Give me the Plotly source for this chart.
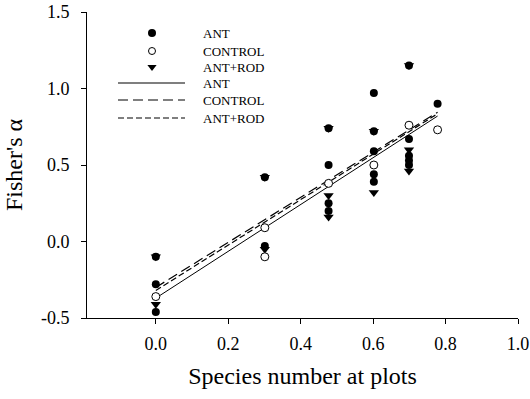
import plotly.graph_objects as go

# ---- data ----
ant_x = [0, 0, 0, 0.301, 0.301, 0.477, 0.477, 0.477, 0.477,
         0.602, 0.602, 0.602, 0.602, 0.602, 0.699, 0.699, 0.699, 0.699, 0.699, 0.778]
ant_y = [-0.10, -0.28, -0.46, 0.42, -0.03, 0.74, 0.50, 0.25, 0.20,
         0.97, 0.72, 0.59, 0.44, 0.39, 1.15, 0.67, 0.56, 0.53, 0.50, 0.90]

ctrl_x = [0, 0.301, 0.301, 0.477, 0.602, 0.699, 0.778]
ctrl_y = [-0.36, 0.09, -0.10, 0.38, 0.50, 0.76, 0.73]

rod_x = [0, 0, 0.301, 0.301, 0.477, 0.477, 0.477, 0.602, 0.602, 0.699, 0.699, 0.699]
rod_y = [-0.10, -0.41, 0.42, -0.05, 0.74, 0.30, 0.16, 0.72, 0.32, 1.15, 0.60, 0.46]

fit_x = [0, 0.778]
ant_fit = [-0.37, 0.82]
ctrl_fit = [-0.30, 0.845]
rod_fit = [-0.32, 0.835]

legend_labels = ["ANT", "CONTROL", "ANT+ROD", "ANT", "CONTROL", "ANT+ROD"]
x_ticks = [0.0, 0.2, 0.4, 0.6, 0.8, 1.0]
y_ticks = [-0.5, 0.0, 0.5, 1.0, 1.5]

FONT = "Liberation Serif, Times New Roman, serif"
W, H = 530, 399
ML, MR, MT, MB = 87, 12, 12, 81

fig = go.Figure()

# regression lines
fig.add_trace(go.Scatter(x=fit_x, y=ant_fit, mode="lines",
                         line=dict(color="black", width=1), showlegend=False))
fig.add_trace(go.Scatter(x=fit_x, y=ctrl_fit, mode="lines",
                         line=dict(color="black", width=1.2, dash="10px,5px"), showlegend=False))
fig.add_trace(go.Scatter(x=fit_x, y=rod_fit, mode="lines",
                         line=dict(color="black", width=1.2, dash="6px,3px"), showlegend=False))

# points
fig.add_trace(go.Scatter(x=rod_x, y=rod_y, mode="markers",
                         marker=dict(symbol="triangle-down", size=9, color="black"), showlegend=False))
fig.add_trace(go.Scatter(x=ant_x, y=ant_y, mode="markers",
                         marker=dict(symbol="circle", size=8, color="black"), showlegend=False))
fig.add_trace(go.Scatter(x=ctrl_x, y=ctrl_y, mode="markers",
                         marker=dict(symbol="circle", size=8, color="white",
                                     line=dict(color="black", width=1)), showlegend=False))

# custom legend on an overlay axis in page-pixel coordinates
leg_rows = [33, 51, 67, 83, 100, 118]
def py(y):
    return H - y

sym = [dict(symbol="circle", size=8, color="black"),
       dict(symbol="circle", size=7, color="white", line=dict(color="black", width=1)),
       dict(symbol="triangle-down", size=8, color="black")]
for i in range(3):
    fig.add_trace(go.Scatter(x=[152], y=[py(leg_rows[i])], mode="markers", marker=sym[i],
                             xaxis="x2", yaxis="y2", showlegend=False))
dashes = ["solid", "10px,5px", "6px,3px"]
for i in range(3):
    fig.add_trace(go.Scatter(x=[118, 185], y=[py(leg_rows[3 + i])] * 2, mode="lines",
                             line=dict(color="black", width=1.2, dash=dashes[i]),
                             xaxis="x2", yaxis="y2", showlegend=False))
for i, lab in enumerate(legend_labels):
    fig.add_annotation(x=201, y=py(leg_rows[i]), xref="x2", yref="y2", text=lab,
                       showarrow=False, xanchor="left", yanchor="middle",
                       font=dict(family=FONT, size=13, color="black"))

fig.update_layout(
    width=W, height=H,
    margin=dict(l=ML, r=MR, t=MT, b=MB),
    plot_bgcolor="white", paper_bgcolor="white",
    font=dict(family=FONT, color="black"),
    xaxis=dict(range=[-0.19, 1.0], tickvals=x_ticks, ticktext=[f"{v:.1f}" for v in x_ticks],
               showgrid=False, zeroline=False, showline=True, linecolor="black", linewidth=1,
               ticks="outside", ticklen=5, tickcolor="black", tickfont=dict(size=18),
               ticklabelstandoff=4, automargin=False,
               title=dict(text="Species number at plots", font=dict(size=24), standoff=14)),
    yaxis=dict(range=[-0.5, 1.5], tickvals=y_ticks, ticktext=[f"{v:.1f}" for v in y_ticks],
               showgrid=False, zeroline=False, showline=True, linecolor="black", linewidth=1,
               ticks="outside", ticklen=5, tickcolor="black", tickfont=dict(size=18),
               ticklabelstandoff=8, automargin=False,
               title=dict(text="Fisher's α", font=dict(size=24), standoff=11)),
    xaxis2=dict(range=[ML, W - MR], overlaying="x", anchor="y2", visible=False),
    yaxis2=dict(range=[MB, H - MT], overlaying="y", anchor="x2", visible=False),
)

fig.write_html("out.html")
